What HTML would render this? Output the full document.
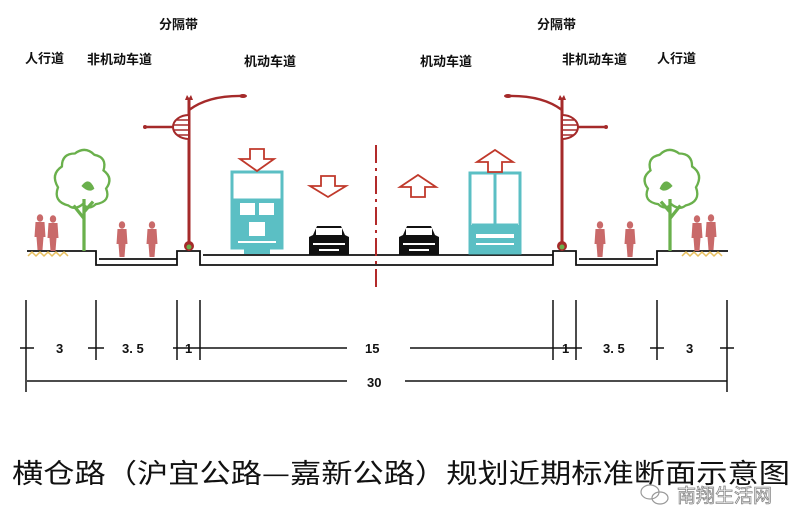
<!DOCTYPE html>
<html><head><meta charset="utf-8"><style>
html,body{margin:0;padding:0;background:#fff;}
svg{display:block;}
text{font-family:"Liberation Sans","Noto Sans CJK SC",sans-serif;}
</style></head><body>
<svg width="800" height="530" viewBox="0 0 800 530" xmlns="http://www.w3.org/2000/svg">
<defs>
<g id="ped"><ellipse cx="0" cy="-32" rx="3.2" ry="3.8" fill="#c96a6a"/><path d="M-4.5,-28 h9 l1,15 h-2 l-1,13 h-5 l-1,-13 h-2z" fill="#c96a6a"/></g>
<g id="tree">
<path d="M0,0 V-40 M0,-25 l-8,-10 M0,-30 l7,-8" stroke="#6ab04c" stroke-width="2.5" fill="none"/>
<path d="M-12,-35 q-12,-3 -8,-14 q-6,-10 3,-16 q0,-10 10,-10 q8,-6 15,1 q10,2 7,12 q8,6 2,14 q4,10 -8,12 q-5,5 -10,0 q-6,5 -11,1z" stroke="#6ab04c" stroke-width="1.8" fill="none"/>
<path d="M-2,-50 q6,-8 10,2 q-4,4 -10,-2z" fill="#6ab04c"/>
</g>
<g id="car">
<path d="M-20,0 v-18 l4,-2 l4,-9 h24 l4,9 l4,2 v18z" fill="#111"/>
<rect x="-13" y="-27" width="26" height="7" fill="#fff"/>
<rect x="-16" y="-12" width="32" height="2" fill="#fff"/>
<rect x="-10" y="-6" width="20" height="2" fill="#fff"/>
</g>
<g id="lampL">
<path d="M0,0 V-150" stroke="#a52a2a" stroke-width="3"/>
<path d="M0,-140 q20,-15 55,-14" stroke="#a52a2a" stroke-width="2.5" fill="none"/>
<ellipse cx="54" cy="-154" rx="4" ry="2" fill="#a52a2a"/>
<path d="M-44,-123 H-10" stroke="#a52a2a" stroke-width="2.5"/>
<circle cx="-44" cy="-123" r="2" fill="#a52a2a"/>
<path d="M0,-135 a16,12 0 0 0 0,24z" fill="#fff" stroke="#a52a2a" stroke-width="2"/>
<path d="M-12,-130 h12 M-15,-125 h15 M-15,-120 h15 M-12,-115 h12" stroke="#a52a2a" stroke-width="1.5"/>
<path d="M-4,-150 l2,-5 l2,3 l2,-3 l2,5z" fill="#a52a2a"/>
<ellipse cx="0" cy="-4" rx="5" ry="5" fill="#a52a2a"/>
<ellipse cx="0" cy="-3" rx="2.5" ry="2.5" fill="#6ab04c"/>
</g>
</defs>

<g font-size="13" font-weight="bold" fill="#111">
<text x="25" y="63">人行道</text>
<text x="87" y="64">非机动车道</text>
<text x="159" y="29">分隔带</text>
<text x="244" y="66">机动车道</text>
<text x="420" y="66">机动车道</text>
<text x="537" y="29">分隔带</text>
<text x="562" y="64">非机动车道</text>
<text x="657" y="63">人行道</text>
</g>

<g stroke="#111" fill="none" stroke-width="1.8">
<polyline points="27,251 96,251 96,265 177,265 177,251 200,251 200,265 553,265 553,251 576,251 576,265 657,265 657,251 728,251"/>
<polyline points="99,259 177,259"/>
<polyline points="203,255 553,255"/>
<polyline points="579,259 654,259"/>
</g>
<path d="M28,256 l4,-4 l4,4 l4,-4 l4,4 l4,-4 l4,4 l4,-4 l4,4 l4,-4 l4,4" stroke="#e8c060" stroke-width="1.5" fill="none"/>
<path d="M682,256 l4,-4 l4,4 l4,-4 l4,4 l4,-4 l4,4 l4,-4 l4,4 l4,-4 l4,4" stroke="#e8c060" stroke-width="1.5" fill="none"/>

<path d="M376,145 V287" stroke="#b22a2a" stroke-width="2" stroke-dasharray="18,5,3,5"/>

<use href="#lampL" transform="translate(189,250)"/>
<use href="#lampL" transform="translate(562,250) scale(-1,1)"/>

<use href="#tree" transform="translate(84,251) scale(1.3)"/>
<use href="#tree" transform="translate(670,251) scale(-1.3,1.3)"/>

<use href="#ped" transform="translate(40,250)"/>
<use href="#ped" transform="translate(53,251)"/>
<use href="#ped" transform="translate(122,257)"/>
<use href="#ped" transform="translate(152,257)"/>
<use href="#ped" transform="translate(600,257)"/>
<use href="#ped" transform="translate(630,257)"/>
<use href="#ped" transform="translate(697,251)"/>
<use href="#ped" transform="translate(711,250)"/>

<g stroke="#5bbfc4" fill="none" stroke-width="3">
<rect x="232" y="172" width="50" height="76"/>
<path d="M232,200 H282"/>
</g>
<rect x="232" y="200" width="50" height="48" fill="#5bbfc4"/>
<rect x="240" y="203" width="15" height="12" fill="#fff"/><rect x="259" y="203" width="15" height="12" fill="#fff"/>
<rect x="249" y="222" width="16" height="14" fill="#fff"/>
<rect x="238" y="241" width="38" height="2" fill="#fff"/>
<rect x="244" y="248" width="26" height="6" fill="#5bbfc4"/>
<g stroke="#5bbfc4" fill="none" stroke-width="3">
<rect x="470" y="173" width="50" height="80"/>
<path d="M495,173 V225 M472,225 H518"/>
</g>
<rect x="470" y="225" width="50" height="28" fill="#5bbfc4"/>
<rect x="476" y="234" width="38" height="4" fill="#fff"/><rect x="476" y="243" width="38" height="2" fill="#fff"/>

<g fill="#fff" stroke="#c0392b" stroke-width="1.8">
<path d="M250,149 h14 v10 h10 l-17,12 l-17,-12 h10z"/>
<path d="M321,176 h14 v10 h11 l-18,11 l-18,-11 h11z"/>
<path d="M411,197 h14 v-10 h11 l-18,-12 l-18,12 h11z"/>
<path d="M488,172 h14 v-10 h11 l-18,-12 l-18,12 h11z"/>
</g>

<use href="#car" transform="translate(329,255)"/>
<use href="#car" transform="translate(419,255)"/>

<g stroke="#111" stroke-width="1.5" fill="none">
<path d="M26,300 V392 M96,300 V360 M177,300 V360 M200,300 V360"/>
<path d="M553,300 V360 M576,300 V360 M657,300 V360 M727,300 V392"/>
<path d="M20,348 H34 M88,348 H104 M173,348 H206 M200,348 H347"/>
<path d="M410,348 H559 M546,348 H582 M650,348 H664 M720,348 H734"/>
<path d="M27,381 H347 M405,381 H727"/>
</g>
<g font-size="13" font-weight="bold" fill="#111">
<text x="56" y="353">3</text>
<text x="122" y="353">3. 5</text>
<text x="185" y="353">1</text>
<text x="365" y="353">15</text>
<text x="562" y="353">1</text>
<text x="603" y="353">3. 5</text>
<text x="686" y="353">3</text>
<text x="367" y="387">30</text>
</g>

<text x="12" y="483" font-size="27" fill="#111" textLength="778" lengthAdjust="spacingAndGlyphs" style="font-family:'Noto Sans CJK SC',sans-serif">横仓路（沪宜公路—嘉新公路）规划近期标准断面示意图</text>
<g stroke="#999" fill="none" stroke-width="1.2">
<ellipse cx="650" cy="492" rx="9" ry="7"/><ellipse cx="660" cy="498" rx="8" ry="6"/>
</g>
<text x="677" y="502" font-size="19" fill="#fff" stroke="#888" stroke-width="0.8" style="font-family:'Noto Sans CJK SC',sans-serif">南翔生活网</text>
</svg>
</body></html>
